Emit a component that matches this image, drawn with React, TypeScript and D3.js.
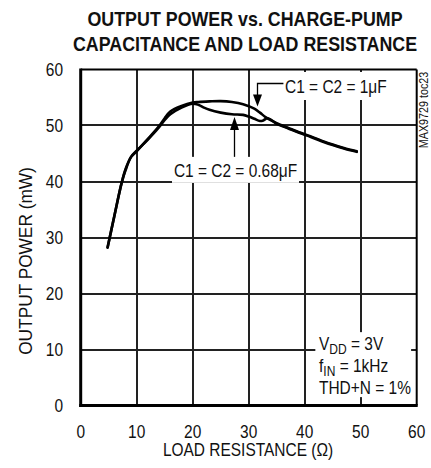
import React from "react";
import * as d3 from "d3";

const W = 431;
const H = 468;

const xTicks = [0, 10, 20, 30, 40, 50, 60];
const yTicks = [0, 10, 20, 30, 40, 50, 60];

const titleLines = ["OUTPUT POWER vs. CHARGE-PUMP", "CAPACITANCE AND LOAD RESISTANCE"];
const xLabel = "LOAD RESISTANCE (Ω)";
const yLabel = "OUTPUT POWER (mW)";
const sideNote = "MAX9729 toc23";

// C1 = C2 = 1µF
const r1uF = [4.8, 6, 7.3, 8, 9, 10, 12, 14, 15, 16, 18, 20, 21, 23, 25, 27, 29, 31, 32, 33, 34, 35, 37, 39, 41, 43, 45, 47, 49.3];
const p1uF = [28.2, 33.8, 39.7, 42, 44.4, 45.4, 47.6, 49.9, 51.3, 52.5, 53.5, 54.1, 54.2, 54.3, 54.35, 54.2, 53.8, 53.0, 52.3, 51.5, 50.9, 50.4, 49.6, 48.8, 48.1, 47.3, 46.6, 46.0, 45.4];

// C1 = C2 = 0.68µF
const r068 = [4.8, 6, 7.3, 8, 9, 10, 12, 14, 15, 16, 18, 20, 21, 22, 23, 25, 27, 29, 30, 31, 32, 32.6, 33.3, 34, 35, 37, 39, 41, 43, 45, 47, 49.3];
const p068 = [28.2, 33.8, 39.7, 42.2, 44.4, 45.5, 47.5, 49.7, 51.0, 52.0, 53.2, 53.9, 53.7, 53.2, 52.8, 52.3, 52.0, 51.9, 51.6, 51.2, 50.8, 50.9, 51.3, 51.0, 50.3, 49.5, 48.7, 48.0, 47.2, 46.5, 45.9, 45.3];

const legendLines = [
  { main: "V", sub: "DD", rest: " = 3V" },
  { main: "f", sub: "IN", rest: " = 1kHz" },
  { main: "THD+N = 1%", sub: "", rest: "" },
];

const FONT = "'Liberation Sans', Arial, Helvetica, sans-serif";
const SX = 0.86;

function T(props: {
  x: number;
  y: number;
  anchor?: string;
  size: number;
  weight?: string;
  rotate?: number;
  sx?: number;
  children: React.ReactNode;
}) {
  const { x, y, anchor = "start", size, weight = "normal", rotate = 0, sx = SX, children } = props;
  return (
    <text
      transform={`translate(${x},${y}) rotate(${rotate}) scale(${sx},1)`}
      textAnchor={anchor}
      fontSize={size}
      fontWeight={weight}
      fill="#111"
    >
      {children}
    </text>
  );
}

export default function App() {
  const left = 80.7, right = 416.7, top = 69.5, bottom = 405.5;
  const x = d3.scaleLinear().domain([0, 60]).range([left, right]);
  const y = d3.scaleLinear().domain([0, 60]).range([bottom, top]);
  const px = (v: number) => Math.round(v) + 0.5;

  const line = d3
    .line<[number, number]>()
    .x((d) => x(d[0]))
    .y((d) => y(d[1]))
    .curve(d3.curveCatmullRom.alpha(0.5));

  const d1 = line(r1uF.map((r, i) => [r, p1uF[i]] as [number, number])) || "";
  const d2 = line(r068.map((r, i) => [r, p068[i]] as [number, number])) || "";

  const gridPath =
    xTicks
      .slice(1, -1)
      .map((t) => `M${Math.round(x(t))},${top}V${bottom}`)
      .join("") +
    yTicks
      .slice(1, -1)
      .map((t) => `M${left},${Math.round(y(t))}H${right}`)
      .join("");

  // annotation anchors (data coords)
  const a068x = px(x(27.4)), a068tip = y(51.5), a068base = y(44.4);
  const a1x = px(x(31.4)), a1tip = y(53.4), a1top = px(y(57.5));

  return (
    <div style={{ position: "absolute", left: 0, top: 0 }}>
      <svg width={W} height={H} style={{ display: "block", background: "#fff" }} fontFamily={FONT}>
        {/* title */}
        {titleLines.map((t, i) => (
          <T key={t} x={245} y={26 + i * 25} anchor="middle" weight="bold" size={21} sx={0.85}>
            {t}
          </T>
        ))}

        {/* gridlines */}
        <path d={gridPath} fill="none" stroke="#222" strokeWidth={2} />

        {/* white label boxes */}
        <rect x={x(41.9)} y={y(13.1)} width={x(59.0) - x(41.9)} height={y(1.5) - y(13.1)} fill="#fff" />
        <rect x={172} y={a068base} width={127} height={26} fill="#fff" />
        <rect x={283} y={72} width={107} height={28} fill="#fff" />

        {/* curves */}
        <path d={d1} fill="none" stroke="#000" strokeWidth={2.6} strokeLinejoin="round" strokeLinecap="round" />
        <path d={d2} fill="none" stroke="#000" strokeWidth={2.6} strokeLinejoin="round" strokeLinecap="round" />

        {/* frame */}
        <line x1={left} x2={right} y1={top} y2={top} stroke="#000" strokeWidth={2} />
        <line x1={right} x2={right} y1={top} y2={bottom} stroke="#000" strokeWidth={2} />
        <line x1={left} x2={left} y1={top - 1} y2={bottom + 1.5} stroke="#000" strokeWidth={3} />
        <line x1={left - 1.5} x2={right + 1} y1={bottom} y2={bottom} stroke="#000" strokeWidth={3} />

        {/* 0.68uF annotation */}
        <line x1={a068x} x2={a068x} y1={a068base} y2={a068tip + 10} stroke="#000" strokeWidth={1.3} />
        <path d={`M${a068x},${a068tip} L${a068x - 4.5},${a068tip + 13} L${a068x + 4.5},${a068tip + 13} Z`} fill="#000" />
        <T x={235.5} y={177} anchor="middle" size={18}>C1 = C2 = 0.68μF</T>

        {/* 1uF annotation */}
        <path d={`M${x(36.2)},${a1top} L${a1x},${a1top} L${a1x},${a1tip - 10}`} fill="none" stroke="#000" strokeWidth={1.3} />
        <path d={`M${a1x},${a1tip} L${a1x - 4.5},${a1tip - 12} L${a1x + 4.5},${a1tip - 12} Z`} fill="#000" />
        <T x={285} y={93} size={18}>C1 = C2 = 1μF</T>

        {/* legend */}
        {legendLines.map((l, i) => (
          <T key={i} x={319} y={350 + i * 22} size={18}>
            {l.main}
            {l.sub && (
              <tspan dy={4} fontSize={14}>
                {l.sub}
              </tspan>
            )}
            {l.rest && <tspan dy={l.sub ? -4 : 0}>{l.rest}</tspan>}
          </T>
        ))}

        {/* tick labels */}
        {xTicks.map((t) => (
          <T key={"xt" + t} x={x(t)} y={438} anchor="middle" size={18}>
            {t}
          </T>
        ))}
        {yTicks.map((t) => (
          <T key={"yt" + t} x={63} y={y(t) + 6.5} anchor="end" size={18}>
            {t}
          </T>
        ))}

        {/* axis labels */}
        <T x={248} y={456} anchor="middle" size={18}>{xLabel}</T>
        <T x={32} y={261} anchor="middle" size={18} rotate={-90} sx={0.96}>
          {yLabel}
        </T>
        <T x={428} y={110} anchor="middle" size={12.5} rotate={-90}>
          {sideNote}
        </T>
      </svg>
    </div>
  );
}
